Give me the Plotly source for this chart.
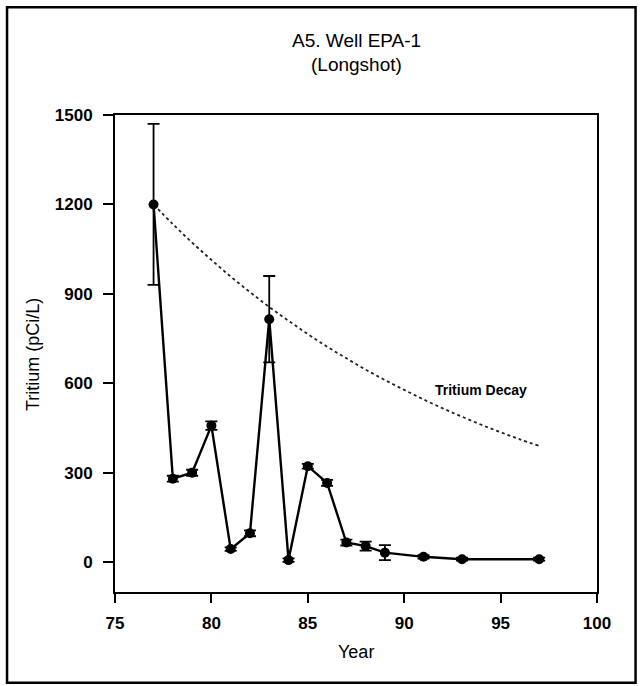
import plotly.graph_objects as go

# Measured tritium data
years = [77, 78, 79, 80, 81, 82, 83, 84, 85, 86, 87, 88, 89, 91, 93, 97]
tritium = [1200, 280, 300, 458, 44, 97, 815, 7, 322, 266, 66, 54, 32, 18, 10, 10]
errors = [270, 10, 10, 14, 6, 10, 145, 6, 8, 10, 10, 15, 25, 6, 5, 5]

# Tritium decay curve
decay_years = [77, 78, 79, 80, 81, 82, 83, 84, 85, 86, 87, 88, 89, 90, 91, 92, 93, 94, 95, 96, 97]
decay_vals = [1200, 1134, 1072, 1014, 958, 906, 856, 810, 765, 723, 684, 646, 611, 578, 546, 516, 488, 461, 436, 412, 390]

x_ticks = [75, 80, 85, 90, 95, 100]
y_ticks = [0, 300, 600, 900, 1200, 1500]

FONT = "Liberation Sans, Arial, sans-serif"
INK = "#000"

fig = go.Figure()
fig.add_trace(go.Scatter(
    x=decay_years, y=decay_vals, mode="lines",
    line=dict(color="#222", width=1.8, dash="dot", shape="spline"),
    showlegend=False, hoverinfo="skip",
))
fig.add_trace(go.Scatter(
    x=years, y=tritium, mode="lines+markers",
    line=dict(color="#000", width=2.4),
    marker=dict(symbol="circle", size=10, color="#000"),
    error_y=dict(type="data", array=errors, visible=True, color="#000", thickness=1.8, width=6),
    showlegend=False,
))

fig.add_annotation(x=94, y=577, text="<b>Tritium Decay</b>", showarrow=False,
                   font=dict(family=FONT, size=14, color=INK))

# Title lines
fig.add_annotation(xref="paper", yref="paper", x=0.502, y=1.157, text="A5. Well EPA-1",
                   showarrow=False, xanchor="center", yanchor="middle",
                   font=dict(family=FONT, size=19, color=INK))
fig.add_annotation(xref="paper", yref="paper", x=0.502, y=1.105, text="(Longshot)",
                   showarrow=False, xanchor="center", yanchor="middle",
                   font=dict(family=FONT, size=19, color=INK))
# Axis titles
fig.add_annotation(xref="paper", yref="paper", x=0.50, y=-0.126, text="Year",
                   showarrow=False, xanchor="center", yanchor="middle",
                   font=dict(family=FONT, size=18, color=INK))
fig.add_annotation(xref="paper", yref="paper", x=-0.170, y=0.497, text="Tritium (pCi/L)",
                   showarrow=False, xanchor="center", yanchor="middle", textangle=-90,
                   font=dict(family=FONT, size=18, color=INK))

# Outer frame
fig.add_shape(type="rect", xref="paper", yref="paper",
              x0=-0.224, x1=1.08, y0=-0.19, y1=1.226,
              line=dict(color="#000", width=2.5), fillcolor="rgba(0,0,0,0)")

fig.update_layout(
    width=642, height=686,
    margin=dict(l=115, r=45, t=115, b=94),
    paper_bgcolor="white", plot_bgcolor="white",
    font=dict(family=FONT, color=INK, size=14),
)
fig.update_xaxes(
    range=[75, 100], tickvals=x_ticks, ticks="outside", ticklen=9, tickwidth=1.8,
    tickcolor="#000", showline=True, linecolor="#000", linewidth=2, mirror=True,
    showgrid=False, zeroline=False, ticklabelstandoff=6,
    tickfont=dict(family=FONT, size=17, color=INK, weight="bold"),
)
fig.update_yaxes(
    range=[-100, 1500], tickvals=y_ticks, ticks="outside", ticklen=10, tickwidth=1.8,
    tickcolor="#000", showline=True, linecolor="#000", linewidth=2, mirror=True,
    showgrid=False, zeroline=False, ticklabelstandoff=7,
    tickfont=dict(family=FONT, size=17, color=INK, weight="bold"),
)

fig.write_html("out.html", config={"displayModeBar": False},
               post_script="document.body.style.margin='0';")
